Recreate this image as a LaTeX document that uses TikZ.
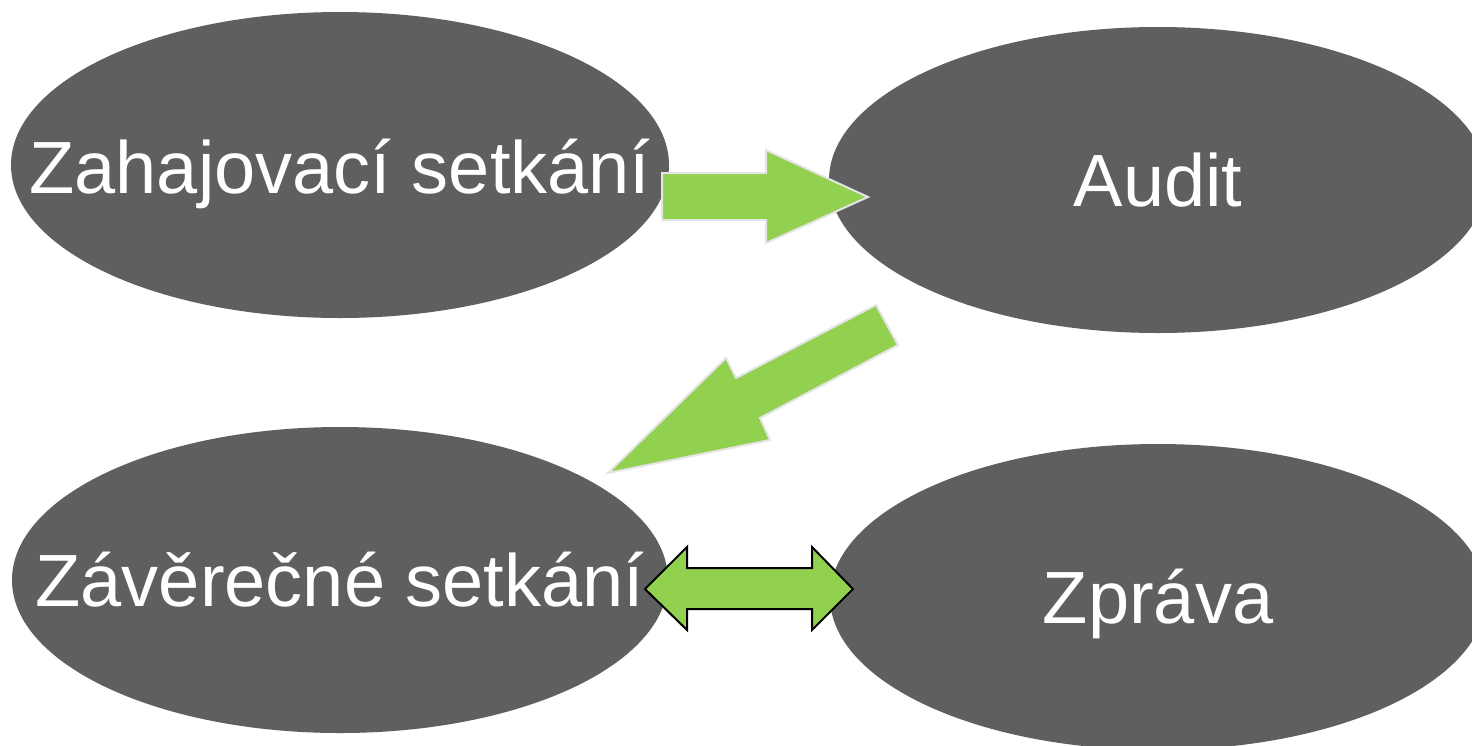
\documentclass[tikz,border=0pt]{standalone}
\usepackage{fontspec}
\setmainfont{Liberation Sans}
\usetikzlibrary{shapes.geometric}
\definecolor{ellgray}{HTML}{5F5F5F}
\definecolor{arrgreen}{HTML}{92D050}
\definecolor{rimgray}{HTML}{E4E4E4}
\tikzset{
  ell/.style={ellipse, fill=ellgray, draw=none, inner sep=0pt},
  lbl/.style={text=white, inner sep=0pt, font=\fontsize{74}{80}\selectfont, text height=53pt, text depth=0pt},
  blockarrow/.style={fill=arrgreen, draw=rimgray, line width=2pt, line join=miter},
  dblarrow/.style={fill=arrgreen, draw=black, line width=2pt, line join=miter}
}
\begin{document}
\begin{tikzpicture}[x=1pt,y=-1pt]
\useasboundingbox (0,0) rectangle (1472,745);
\clip (0,0) rectangle (1472,745);
\fill[white] (0,0) rectangle (1472,745);
% ellipses
\node[ell, minimum width=658pt, minimum height=306pt] (e1) at (340,165) {};
\node[ell, minimum width=658pt, minimum height=306pt] (e2) at (1158,180) {};
\node[ell, minimum width=656pt, minimum height=306pt] (e3) at (340,580) {};
\node[ell, minimum width=656pt, minimum height=306pt] (e4) at (1158,597) {};
% labels
\node[lbl] (t1) at ([yshift=-2pt]e1.center) {Zahajovací setkání};
\node[lbl] (t2) at (e2.center) {Audit};
\node[lbl] (t3) at (e3.center) {Závěrečné setkání};
\node[lbl] (t4) at (e4.center) {Zpráva};
% arrow 1: right
\draw[blockarrow] (662,173) -- (766,173) -- (766,150) -- (868,197) -- (766,243) -- (766,220) -- (662,220) -- cycle;
% arrow 2: diagonal down-left
\draw[blockarrow] (876,305) -- (898,345) -- (760,418) -- (770,440) -- (608,473) -- (726,358) -- (736,378) -- cycle;
% arrow 3: double
\draw[dblarrow] (645,589) -- (687,547) -- (687,568) -- (812,568) -- (812,547) -- (853,589) -- (812,630) -- (812,609) -- (687,609) -- (687,630) -- cycle;
\end{tikzpicture}
\end{document}
